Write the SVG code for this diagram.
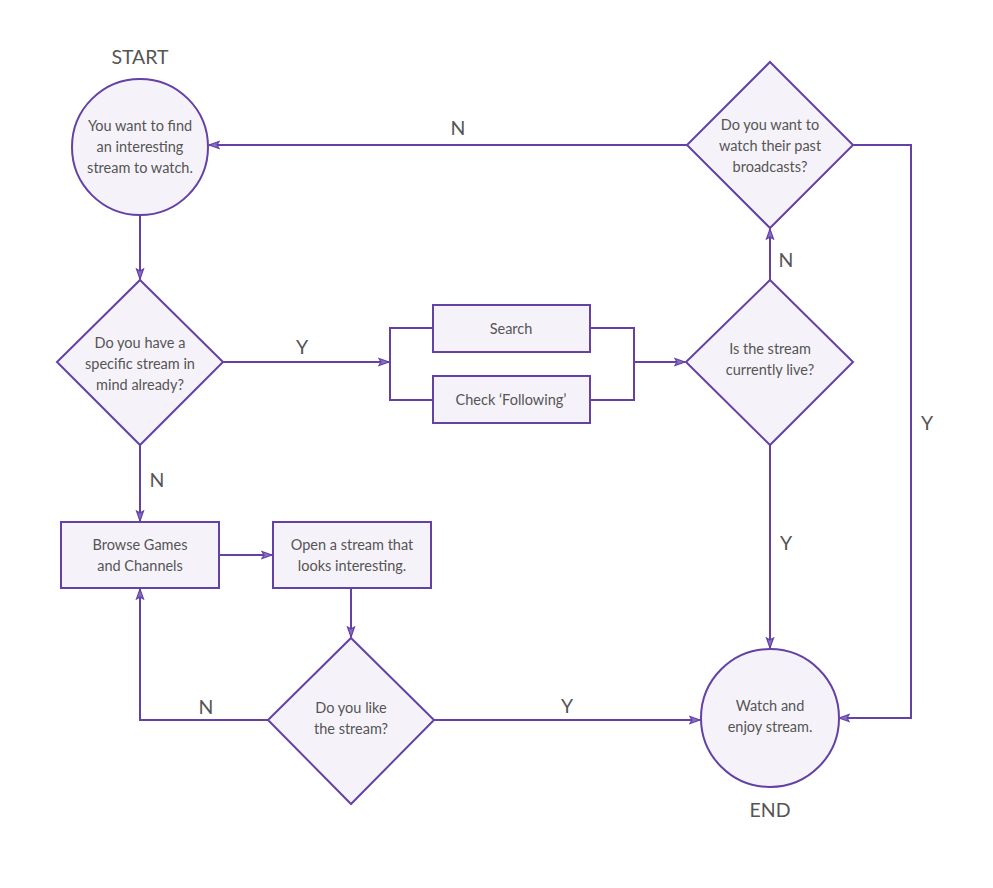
<svg xmlns="http://www.w3.org/2000/svg" width="993" height="888" viewBox="0 0 993 888">
<defs>
<style>
.s{fill:#F5F3F9;stroke:#6441A5;stroke-width:2}
.c{fill:none;stroke:#6441A5;stroke-width:2}
.t{font-family:"Lato","Noto Sans",sans-serif;font-size:14.5px;fill:#555;text-anchor:middle}
.l{font-family:"Lato","Noto Sans",sans-serif;font-size:19.5px;fill:#555;text-anchor:middle}
</style>
<marker id="a" viewBox="0 0 12 10" refX="11" refY="5" markerWidth="12" markerHeight="10" markerUnits="userSpaceOnUse" orient="auto">
<path d="M1,1.5 L11,5 L1,8.5 L3,5 Z" fill="#8A6CC4" stroke="#6441A5" stroke-width="1.2" stroke-linejoin="miter"/>
</marker>
</defs>
<rect width="993" height="888" fill="#fff"/>
<g id="connectors">
<path class="c" d="M140,215 V279" marker-end="url(#a)"/>
<path class="c" d="M223,362 H389" marker-end="url(#a)"/>
<path class="c" d="M433,328 H390 V400 H433"/>
<path class="c" d="M590,328 H634 V400 H590"/>
<path class="c" d="M634,362 H685" marker-end="url(#a)"/>
<path class="c" d="M770,280 V229" marker-end="url(#a)"/>
<path class="c" d="M687,145 H209" marker-end="url(#a)"/>
<path class="c" d="M853,145 H911 V718 H839" marker-end="url(#a)"/>
<path class="c" d="M770,445 V648" marker-end="url(#a)"/>
<path class="c" d="M140,445 V521" marker-end="url(#a)"/>
<path class="c" d="M219,555 H272" marker-end="url(#a)"/>
<path class="c" d="M351,588 V637" marker-end="url(#a)"/>
<path class="c" d="M268,720 H140 V589" marker-end="url(#a)"/>
<path class="c" d="M434,720 H700" marker-end="url(#a)"/>
<text class="l" x="302" y="354">Y</text>
<text class="l" x="458" y="135">N</text>
<text class="l" x="786" y="267">N</text>
<text class="l" x="927" y="430">Y</text>
<text class="l" x="786" y="550">Y</text>
<text class="l" x="157" y="487">N</text>
<text class="l" x="206" y="714">N</text>
<text class="l" x="567" y="713">Y</text>
</g>
<g id="start">
<text class="l" x="140" y="64">START</text>
<circle class="s" cx="140" cy="147" r="68"/>
<text class="t" x="140" y="131">You want to find</text>
<text class="t" x="140" y="152">an interesting</text>
<text class="t" x="140" y="173">stream to watch.</text>
</g>
<g id="q-specific">
<polygon class="s" points="140,280 223,362 140,445 57,362"/>
<text class="t" x="140" y="348">Do you have a</text>
<text class="t" x="140" y="369">specific stream in</text>
<text class="t" x="140" y="390">mind already?</text>
</g>
<g id="search">
<rect class="s" x="433" y="305" width="157" height="47"/>
<text class="t" x="511" y="334">Search</text>
</g>
<g id="following">
<rect class="s" x="433" y="376" width="157" height="47"/>
<text class="t" x="511" y="405">Check ‘Following’</text>
</g>
<g id="q-live">
<polygon class="s" points="770,280 853,362 770,445 686,362"/>
<text class="t" x="770" y="354">Is the stream</text>
<text class="t" x="770" y="375">currently live?</text>
</g>
<g id="q-past">
<polygon class="s" points="770,62 853,145 770,228 687,145"/>
<text class="t" x="770" y="130">Do you want to</text>
<text class="t" x="770" y="151">watch their past</text>
<text class="t" x="770" y="172">broadcasts?</text>
</g>
<g id="browse">
<rect class="s" x="61" y="522" width="158" height="66"/>
<text class="t" x="140" y="550">Browse Games</text>
<text class="t" x="140" y="571">and Channels</text>
</g>
<g id="open">
<rect class="s" x="273" y="522" width="158" height="66"/>
<text class="t" x="352" y="550">Open a stream that</text>
<text class="t" x="352" y="571">looks interesting.</text>
</g>
<g id="q-like">
<polygon class="s" points="351,638 434,720 351,804 268,720"/>
<text class="t" x="351" y="713">Do you like</text>
<text class="t" x="351" y="734">the stream?</text>
</g>
<g id="end">
<circle class="s" cx="770" cy="718" r="69"/>
<text class="t" x="770" y="711">Watch and</text>
<text class="t" x="770" y="732">enjoy stream.</text>
<text class="l" x="770" y="817">END</text>
</g>
</svg>
